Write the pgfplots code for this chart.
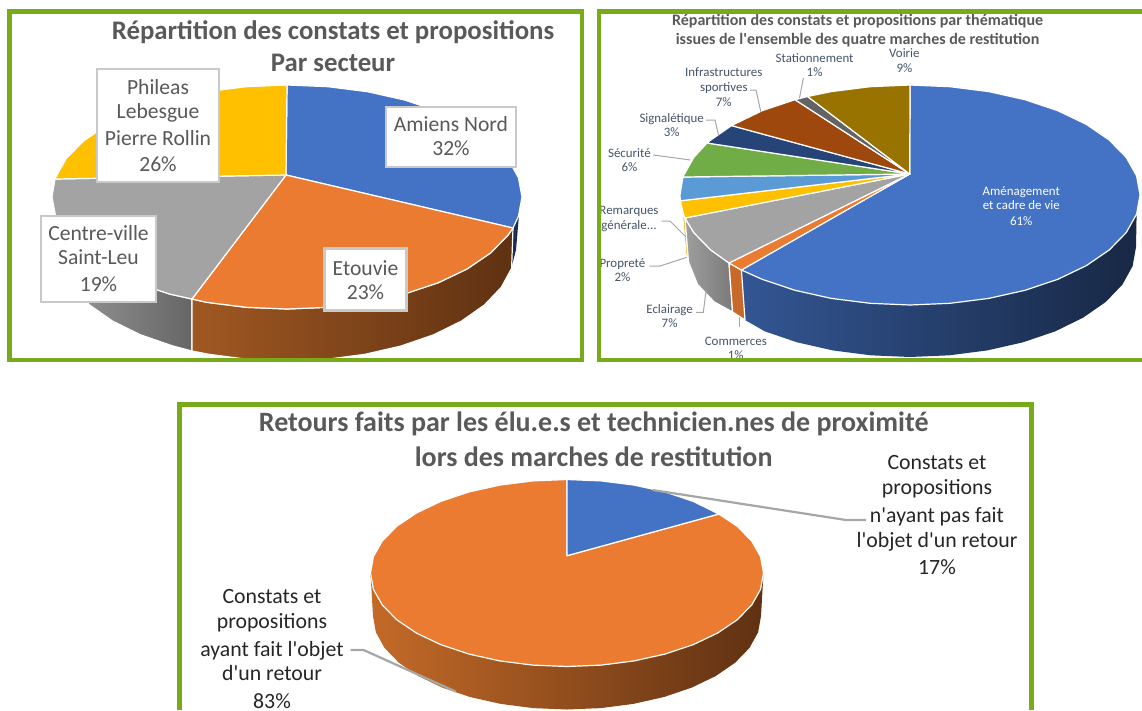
\documentclass[border=0pt]{standalone}
\usepackage{fontspec}
\setmainfont{Carlito}[Ligatures=TeXOff]
\usepackage{pgfplots}
\pgfplotsset{compat=1.18}

\definecolor{cadre}{HTML}{78AB19}
\definecolor{titre}{HTML}{595959}
\definecolor{etiq}{HTML}{44546A}
\definecolor{boite}{HTML}{C9C9C9}
\definecolor{trait}{HTML}{A6A6A6}
\definecolor{pbleu}{HTML}{4472C4}
\definecolor{porange}{HTML}{EB7B30}
\definecolor{pgris}{HTML}{A3A3A3}
\definecolor{pjaune}{HTML}{FFC000}
\definecolor{pciel}{HTML}{5B9BD5}
\definecolor{pvert}{HTML}{70AD47}
\definecolor{pmarine}{HTML}{264478}
\definecolor{pbrun}{HTML}{9E480E}
\definecolor{pardoise}{HTML}{636363}
\definecolor{pbronze}{HTML}{997300}
\definecolor{cuirA}{HTML}{A05822}
\definecolor{cuirB}{HTML}{5F3112}
\definecolor{cuirC}{HTML}{C46A28}
\definecolor{cuirD}{HTML}{8C4D1E}

\pgfplotsset{
  part/.style={draw=white, line width=1.2pt, line join=round},
  leader/.style={draw=trait, line width=1pt},
  leaderb/.style={draw=trait, line width=2.2pt},
}
\tikzset{
  t/.style={inner sep=0pt, anchor=center},
  titreA/.style={t, text height=21pt, text depth=4pt, font=\fontsize{26.8}{30}\selectfont\bfseries, text=titre},
  titreB/.style={t, text height=14pt, text depth=2pt, font=\fontsize{16}{18}\selectfont\bfseries, text=titre},
  titreC/.style={t, text height=21pt, text depth=4pt, font=\fontsize{28}{30}\selectfont\bfseries, text=titre},
  labA/.style={t, text height=16pt, text depth=3pt, font=\fontsize{21.6}{24}\selectfont, text=titre},
  labB/.style={t, text height=11pt, text depth=2pt, font=\fontsize{12.9}{14}\selectfont, text=etiq},
  labC/.style={t, text height=16pt, text depth=3pt, font=\fontsize{21.8}{24}\selectfont, text=black!85},
  boxA/.style={draw=boite, line width=2.5pt, fill=white, inner sep=0pt},
}

\begin{document}
\begin{tikzpicture}
\path[use as bounding box] (0,0) rectangle (1142pt,710pt);
\begin{axis}[
  scale only axis, width=1142pt, height=710pt,
  xmin=0, xmax=1142, ymin=0, ymax=710, y dir=reverse,
  hide axis, clip=true, anchor=south west, at={(0,0)},
]
% --- secteur (haut gauche)
\addplot[part, left color=black!40, right color=black!60] coordinates {(192,299) (169.5,294) (135.9,282.8) (107,269) (83.5,253) (66.1,235.3) (55.6,216.4) (59,249) (62.4,268.4) (72.7,287.3) (89.6,305) (112.4,321) (140.4,334.8) (173,346) (192,351)} -- cycle;
\addplot[draw=none, fill=pbleu!40!black] coordinates {(519,215) (513,228) (510,273) (516,250)} -- cycle;
\addplot[part, left color=cuirA, middle color=cuirB, right color=cuirB] coordinates {(192,299) (206.6,302.3) (246.1,307.3) (287,309) (327.9,307.3) (367.4,302.3) (404.5,294) (438.1,282.8) (467,269) (490.5,253) (507.9,235.3) (513,228) (511.6,268.4) (501.3,287.3) (484.4,305) (461.6,321) (433.6,334.8) (401,346) (365,354.3) (326.7,359.3) (287,361) (247.3,359.3) (209,354.3) (192,351)} -- cycle;
\addplot[part, fill=pbleu] coordinates {(286,175) (287,85) (328,86.7) (367.4,91.7) (404.5,100) (438.1,111.2) (467,125) (490.5,141) (507.9,158.7) (518.4,177.6) (522,197) (518.4,216.4) (513,228)} -- cycle;
\addplot[part, fill=porange] coordinates {(286,175) (513,228) (507.9,235.3) (490.5,253) (467,269) (438.1,282.8) (404.5,294) (367.4,302.3) (327.9,307.3) (287,309) (246.1,307.3) (206.6,302.3) (192,299)} -- cycle;
\addplot[part, fill=pgris] coordinates {(286,175) (192,299) (169.5,294) (135.9,282.8) (107,269) (83.5,253) (66.1,235.3) (55.6,216.4) (52,197) (55,179)} -- cycle;
\addplot[part, fill=pjaune] coordinates {(286,175) (55,179) (55.6,177.6) (66.1,158.7) (83.5,141) (107,125) (135.9,111.2) (169.5,100) (206.6,91.7) (246.1,86.7) (287,85)} -- cycle;

\node[titreA] at (333,31) {Répartition des constats et propositions};
\node[titreA] at (333,63) {Par secteur};
\node[boxA, minimum width=130pt, minimum height=60pt] at (451,137) {};
\node[labA] at (451,125) {Amiens Nord};
\node[labA] at (451,149) {32\%};
\node[boxA, minimum width=82pt, minimum height=62pt] at (365.5,279.5) {};
\node[labA] at (365.5,269) {Etouvie};
\node[labA] at (365.5,293) {23\%};
\node[boxA, minimum width=115pt, minimum height=86pt] at (98.5,259) {};
\node[labA] at (98.5,234) {Centre-ville};
\node[labA] at (98.5,258) {Saint-Leu};
\node[labA] at (98.5,285) {19\%};
\node[boxA, minimum width=122pt, minimum height=113pt] at (158,125.5) {};
\node[labA] at (158,88) {Phileas};
\node[labA] at (158,112) {Lebesgue};
\node[labA] at (158,139) {Pierre Rollin};
\node[labA] at (158,165) {26\%};

% --- thematique (haut droite)
\addplot[draw=none, left color=pbleu!75!black, middle color=pbleu!45!black, right color=pbleu!35!black] coordinates {(741.4,270) (762.2,279.3) (795,290.3) (831.3,298.4) (870.1,303.3) (910,305) (949.9,303.3) (988.7,298.4) (1025,290.3) (1057.8,279.3) (1086.2,265.7) (1109.2,250) (1126.2,232.6) (1136.6,214.1) (1136,247) (1132.6,266.1) (1122.4,284.6) (1105.7,302) (1083.1,317.7) (1055.3,331.3) (1023,342.3) (987.3,350.4) (949.3,355.3) (910,357) (870.7,355.3) (832.7,350.4) (797,342.3) (764.7,331.3) (745,320)} -- cycle;
\addplot[part, fill=pjaune!90!black] coordinates {(682.5,214) (685,218) (688.5,262) (686,255)} -- cycle;
\addplot[part, left color=black!38, right color=black!52] coordinates {(729,263) (710.8,250) (693.8,232.6) (685,218) (688.5,262) (697.6,284.6) (714.3,302) (732.6,312)} -- cycle;
\addplot[part, fill=porange!85!black] coordinates {(729,263) (741.4,270) (745,320) (732.6,312)} -- cycle;

\addplot[part, fill=pbleu] coordinates {(909.7,174) (910,85) (949.9,86.7) (988.7,91.6) (1025,99.7) (1057.8,110.7) (1086.2,124.3) (1109.2,140) (1126.2,157.4) (1136.6,175.9) (1140,195) (1136.6,214.1) (1126.2,232.6) (1109.2,250) (1086.2,265.7) (1057.8,279.3) (1025,290.3) (988.7,298.4) (949.9,303.3) (910,305) (870.1,303.3) (831.3,298.4) (795,290.3) (762.2,279.3) (741.4,270)} -- cycle;
\addplot[part, fill=porange] coordinates {(909.7,174) (741.4,270) (733.8,265.7) (729,263)} -- cycle;
\addplot[part, fill=pgris] coordinates {(909.7,174) (729,263) (710.8,250) (693.8,232.6) (685,218)} -- cycle;
\addplot[part, fill=pjaune] coordinates {(909.7,174) (685,218) (683.4,214.1) (680.3,200.8)} -- cycle;
\addplot[part, fill=pciel] coordinates {(909.7,174) (680.3,200.8) (680,195) (683,177)} -- cycle;
\addplot[part, fill=pvert] coordinates {(909.7,174) (683,177) (683.4,175.9) (693.8,157.4) (707,143)} -- cycle;
\addplot[part, fill=pmarine] coordinates {(909.7,174) (707,143) (710.8,140) (731.5,125.6)} -- cycle;
\addplot[part, fill=pbrun] coordinates {(909.7,174) (731.5,125.6) (762.2,110.7) (795,99.7)} -- cycle;
\addplot[part, fill=pardoise] coordinates {(909.7,174) (795,99.7) (807.6,96.5)} -- cycle;
\addplot[part, fill=pbronze] coordinates {(909.7,174) (807.6,96.5) (831.3,91.6) (870.1,86.7) (910,85)} -- cycle;

\addplot[leader] coordinates {(803.4,78) (799.5,98)};
\addplot[leader] coordinates {(750,90) (756,90) (760.8,111.7)};
\addplot[leader] coordinates {(706,120) (715,120) (718.5,135)};
\addplot[leader] coordinates {(653.4,155) (690.4,160)};
\addplot[leader] coordinates {(661.7,221) (670,221) (685.7,236.7)};
\addplot[leader] coordinates {(649.3,266) (660,266) (686.7,257.3)};
\addplot[leader] coordinates {(696,312.3) (703.3,312.3) (706,290.7)};
\addplot[leader] coordinates {(739.3,317.3) (739.3,327.3)};

\node[titreB] at (857.6,19) {Répartition des constats et propositions par thématique};
\node[titreB] at (857.6,38) {issues de l'ensemble des quatre marches de restitution};
\node[labB] at (814.6,57.5) {Stationnement};
\node[labB] at (814.6,71.7) {1\%};
\node[labB] at (904.4,53.3) {Voirie};
\node[labB] at (904.4,68) {9\%};
\node[labB] at (723.8,72) {Infrastructures};
\node[labB] at (723.8,86.5) {sportives};
\node[labB] at (723.8,102) {7\%};
\node[labB] at (671.7,117.5) {Signalétique};
\node[labB] at (671.7,132) {3\%};
\node[labB] at (629.4,152.7) {Sécurité};
\node[labB] at (629.4,167) {6\%};
\node[labB] at (629,210) {Remarques};
\node[labB] at (629,225) {générale...};
\node[labB] at (622.4,262.5) {Propreté};
\node[labB] at (622.4,277) {2\%};
\node[labB] at (669.6,308.7) {Eclairage};
\node[labB] at (669.6,323) {7\%};
\node[labB] at (735.8,341) {Commerces};
\node[labB] at (735.8,355) {1\%};
\node[labB, text=white] at (1021.3,191) {Aménagement};
\node[labB, text=white] at (1021.3,205) {et cadre de vie};
\node[labB, text=white] at (1021.3,221) {61\%};

% --- retours (bas)
\addplot[draw=none, left color=cuirC, middle color=cuirD, right color=cuirB] coordinates {(763.5,573) (761,616) (758.1,632.3) (749.4,648) (735,662.8) (715.6,676.1) (691.7,687.6) (664,697) (633.3,703.9) (600.8,708.1) (567,709.5) (533.2,708.1) (500.7,703.9) (470,697) (442.3,687.6) (418.4,676.1) (399,662.8) (384.6,648) (375.9,632.3) (373,616) (370.5,573)} -- cycle;
\addplot[part, fill=porange] coordinates {(567,555.7) (718.8,514) (737.2,526.2) (751.7,541) (760.6,556.7) (763.5,573) (760.6,589.3) (751.7,605) (737.2,619.8) (717.5,633.1) (693.3,644.6) (665.3,654) (634.2,660.9) (601.2,665.1) (567,666.5) (532.8,665.1) (499.8,660.9) (468.7,654) (440.7,644.6) (416.5,633.1) (396.8,619.8) (382.3,605) (373.4,589.3) (370.5,573) (373.4,556.7) (382.3,541) (396.8,526.2) (416.5,513) (440.7,501.4) (468.7,492) (499.8,485.1) (532.8,480.9) (567,479.5)} -- cycle;
\addplot[part, fill=pbleu] coordinates {(567,555.7) (567,479.5) (601.2,480.9) (634.2,485.1) (665.3,492) (693.3,501.4) (718.8,514)} -- cycle;
\addplot[leaderb] coordinates {(652.6,490) (846,520) (866,520)};
\addplot[leaderb] coordinates {(350.7,650) (363.6,650) (456,691.7)};

\node[titreC] at (593.7,423.3) {Retours faits par les élu.e.s et technicien.nes de proximité};
\node[titreC] at (593.7,457.7) {lors des marches de restitution};
\node[labC] at (937,462.7) {Constats et};
\node[labC] at (937,487.7) {propositions};
\node[labC] at (937,515.7) {n'ayant pas fait};
\node[labC] at (937,540.7) {l'objet d'un retour};
\node[labC] at (937,568.3) {17\%};
\node[labC] at (272,596.7) {Constats et};
\node[labC] at (272,621.7) {propositions};
\node[labC] at (272,650) {ayant fait l'objet};
\node[labC] at (272,674.3) {d'un retour};
\node[labC] at (272,701.7) {83\%};

% --- cadres
\addplot[draw=cadre, line width=4.5pt] coordinates {(9.5,11.7) (582,11.7) (582,360) (9.5,360)} -- cycle;
\addplot[draw=cadre, line width=4.5pt] coordinates {(1142,11.7) (598.8,11.7) (598.8,360) (1142,360)};
\addplot[draw=cadre, line width=4.5pt] coordinates {(179.5,710) (179.5,404.7) (1031.5,404.7) (1031.5,710)};
\end{axis}
\end{tikzpicture}
\end{document}
